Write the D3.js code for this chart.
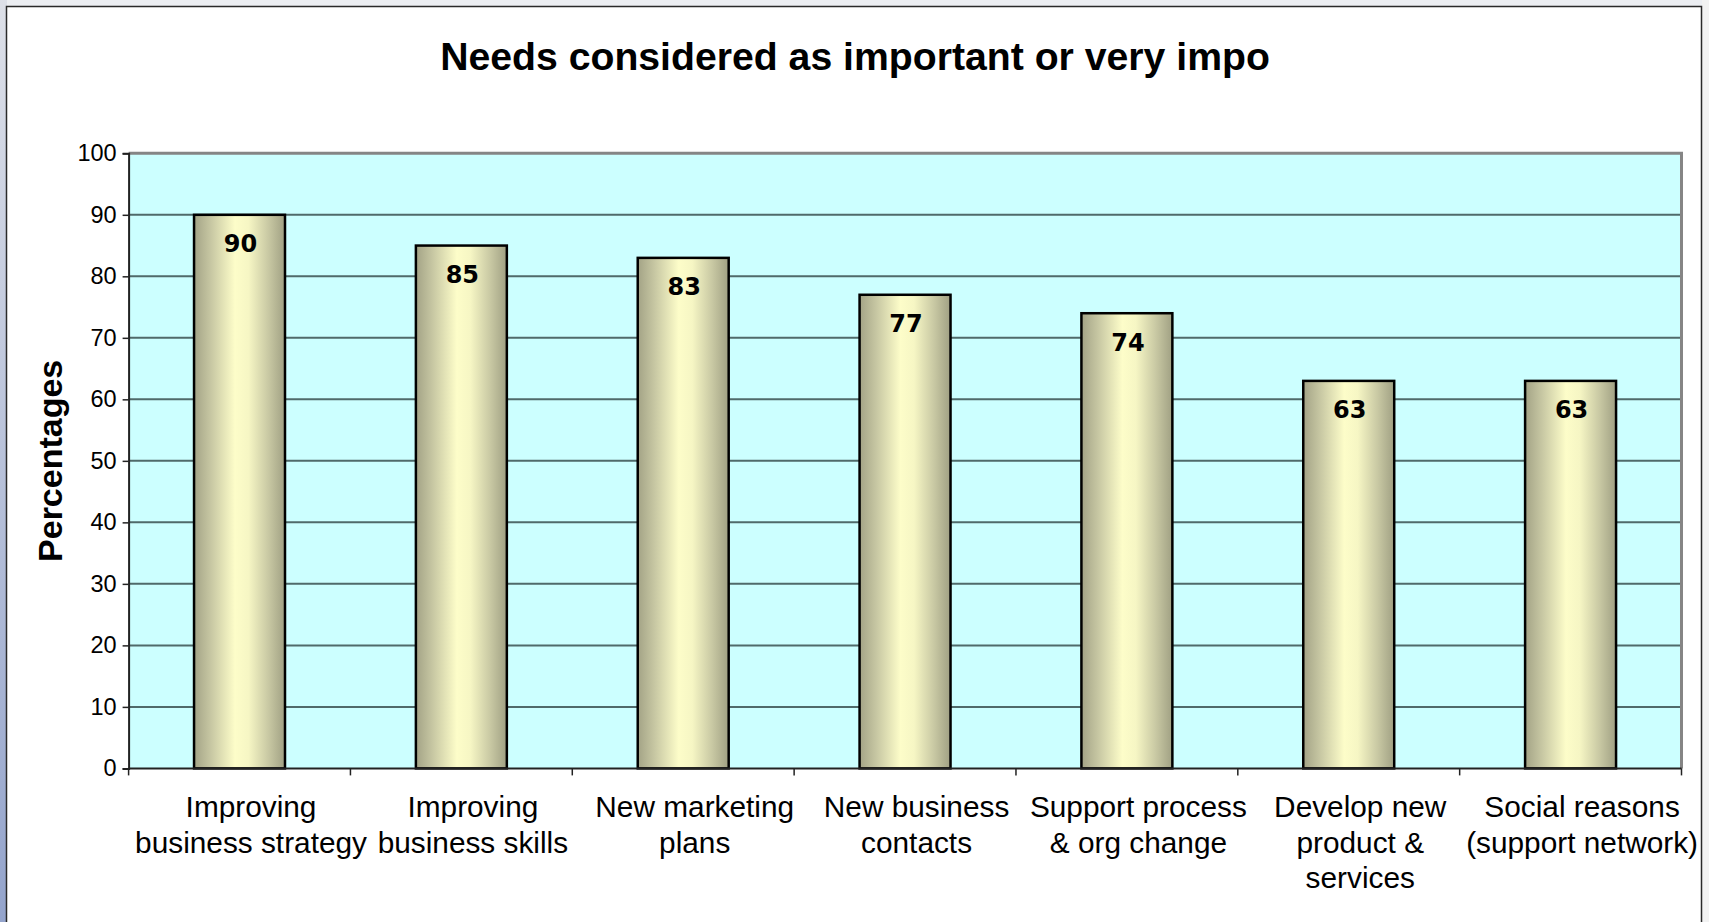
<!DOCTYPE html>
<html>
<head>
<meta charset="utf-8">
<script src="https://cdn.jsdelivr.net/npm/d3@7"></script>
<style>
  html, body { margin: 0; padding: 0; background: #eceef2; }
  svg { display: block; }
</style>
</head>
<body>
<svg id="chart" width="1709" height="922"></svg>
<script>
// Survey results: share of respondents rating each need as important or very important
const categories = [
  "Improving\nbusiness strategy",
  "Improving\nbusiness skills",
  "New marketing\nplans",
  "New business\ncontacts",
  "Support process\n& org change",
  "Develop new\nproduct &\nservices",
  "Social reasons\n(support network)"
];
const values = [90, 85, 83, 77, 74, 63, 63];
const yTicks = [0, 10, 20, 30, 40, 50, 60, 70, 80, 90, 100];
const titleText = "Needs considered as important or very impo";
const yTitle = "Percentages";

const W = 1709, H = 922;
const svg = d3.select("#chart");
const defs = svg.append("defs");

// window-style surround
const side = defs.append("linearGradient").attr("id", "sideGrad")
  .attr("x1", 0).attr("y1", 0).attr("x2", 0).attr("y2", 1);
side.append("stop").attr("offset", "0%").attr("stop-color", "#dde0e8");
side.append("stop").attr("offset", "100%").attr("stop-color", "#94a4cc");

svg.append("rect").attr("x", 0).attr("y", 0).attr("width", W).attr("height", H).attr("fill", "#eceef2");
svg.append("rect").attr("x", 0).attr("y", 0).attr("width", 7).attr("height", H).attr("fill", "url(#sideGrad)");
svg.append("rect").attr("x", 1702).attr("y", 0).attr("width", 7).attr("height", H).attr("fill", "#f2f2f2");

// chart area
svg.append("rect")
  .attr("x", 6.5).attr("y", 6.5).attr("width", 1695).attr("height", H + 10)
  .attr("fill", "#ffffff").attr("stroke", "#2a2a2a").attr("stroke-width", 1.5);

// bar shading: dark olive edges, pale yellow highlight left of centre
const barGrad = defs.append("linearGradient").attr("id", "barGrad")
  .attr("x1", 0).attr("y1", 0).attr("x2", 1).attr("y2", 0);
[["0%", "#a3a386"], ["18%", "#c6c6a2"], ["45%", "#fdfdc9"], ["60%", "#f6f6c4"], ["82%", "#c8c8a3"], ["100%", "#a0a083"]]
  .forEach(([o, c]) => barGrad.append("stop").attr("offset", o).attr("stop-color", c));

const plot = { left: 128.6, right: 1681.5, top: 153.3, bottom: 768.4 };

const x = d3.scaleBand().domain(categories).range([plot.left, plot.right]).padding(0);
const y = d3.scaleLinear().domain([0, 100]).range([plot.bottom, plot.top]);

// plot background
svg.append("rect")
  .attr("x", plot.left).attr("y", plot.top)
  .attr("width", plot.right - plot.left).attr("height", plot.bottom - plot.top)
  .attr("fill", "#ccffff");

// horizontal gridlines
svg.append("g").selectAll("line")
  .data(yTicks.filter(t => t > 0 && t < 100))
  .join("line")
  .attr("x1", plot.left).attr("x2", plot.right)
  .attr("y1", d => y(d)).attr("y2", d => y(d))
  .attr("stroke", "#4f6a6a").attr("stroke-width", 2);

// plot frame: top and right in grey
svg.append("path")
  .attr("d", `M${plot.left},${y(100)}H${plot.right}V${plot.bottom}`)
  .attr("fill", "none").attr("stroke", "#858585").attr("stroke-width", 3);

// bars
const barW = x.bandwidth() * 0.41;
svg.append("g").selectAll("rect")
  .data(values)
  .join("rect")
  .attr("x", (d, i) => x(categories[i]) + x.bandwidth() / 2 - barW / 2)
  .attr("y", d => y(d))
  .attr("width", barW)
  .attr("height", d => y(0) - y(d))
  .attr("fill", "url(#barGrad)")
  .attr("stroke", "#000").attr("stroke-width", 2.5);

// value labels inside bar tops
svg.append("g").selectAll("text")
  .data(values)
  .join("text")
  .attr("x", (d, i) => x(categories[i]) + x.bandwidth() / 2 + 1)
  .attr("y", d => y(d) + 37.5)
  .attr("text-anchor", "middle")
  .attr("font-family", "'DejaVu Sans', Verdana, sans-serif")
  .attr("font-weight", "bold")
  .attr("font-size", 24)
  .attr("fill", "#000")
  .text(d => d);

// y axis
const yAxis = svg.append("g")
  .attr("transform", `translate(${plot.left},0)`)
  .call(d3.axisLeft(y).tickValues(yTicks).tickSize(6).tickPadding(6));
yAxis.select(".domain").attr("stroke", "#222").attr("stroke-width", 2);
yAxis.selectAll(".tick line").attr("stroke", "#222").attr("stroke-width", 1.5);
yAxis.selectAll(".tick text")
  .attr("font-family", "'Liberation Sans', Arial, sans-serif")
  .attr("font-size", 23.5).attr("fill", "#000");

// x axis line with ticks at category boundaries
const xAxisG = svg.append("g");
xAxisG.append("line")
  .attr("x1", plot.left).attr("x2", plot.right)
  .attr("y1", plot.bottom).attr("y2", plot.bottom)
  .attr("stroke", "#222").attr("stroke-width", 2);
const bounds = categories.map(c => x(c)).concat([x.range()[1]]);
xAxisG.selectAll("line.tick")
  .data(bounds)
  .join("line").attr("class", "tick")
  .attr("x1", d => d).attr("x2", d => d)
  .attr("y1", plot.bottom).attr("y2", plot.bottom + 7)
  .attr("stroke", "#222").attr("stroke-width", 1.5);

// category labels
const catText = svg.append("g").selectAll("text")
  .data(categories)
  .join("text")
  .attr("text-anchor", "middle")
  .attr("font-family", "'Liberation Sans', Arial, sans-serif")
  .attr("font-size", 29.8)
  .attr("fill", "#000")
  .attr("transform", d => `translate(${x(d) + x.bandwidth() / 2 + 11.5},817)`);
catText.selectAll("tspan")
  .data(d => d.split("\n"))
  .join("tspan")
  .attr("x", 0)
  .attr("y", (d, i) => i * 35.7)
  .text(d => d);

// title
svg.append("text")
  .attr("x", 855).attr("y", 70)
  .attr("text-anchor", "middle")
  .attr("font-family", "'Liberation Sans', Arial, sans-serif")
  .attr("font-weight", "bold")
  .attr("font-size", 39.2)
  .attr("fill", "#000")
  .text(titleText);

// y axis title
svg.append("text")
  .attr("transform", `translate(61.5,${(plot.top + plot.bottom) / 2}) rotate(-90)`)
  .attr("text-anchor", "middle")
  .attr("font-family", "'Liberation Sans', Arial, sans-serif")
  .attr("font-weight", "bold")
  .attr("font-size", 34)
  .attr("fill", "#000")
  .text(yTitle);
</script>
</body>
</html>
